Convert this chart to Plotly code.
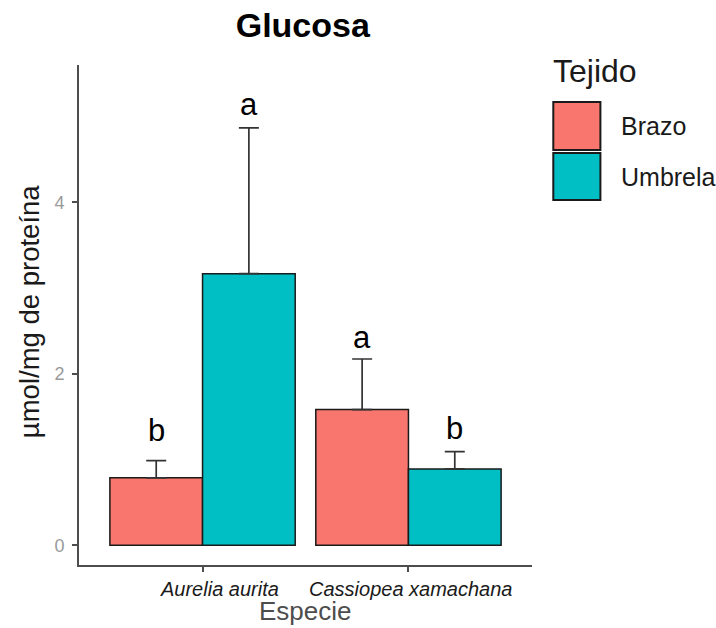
import plotly.graph_objects as go

# Glucose content per species and tissue (mean and upper error)
species = ["Aurelia aurita", "Cassiopea xamachana"]
tissues = ["Brazo", "Umbrela"]
glucose_mean = {
    "Brazo": [0.786, 1.582],
    "Umbrela": [3.167, 0.890],
}
glucose_err = {
    "Brazo": [0.201, 0.590],
    "Umbrela": [1.700, 0.202],
}
# Significance letters and their baseline heights
sig_letters = {
    "Brazo": ["b", "a"],
    "Umbrela": ["a", "b"],
}
sig_y = {
    "Brazo": [1.19, 2.28],
    "Umbrela": [4.99, 1.22],
}
y_ticks = [0, 2, 4]

colors = {"Brazo": "#F8766D", "Umbrela": "#00BFC4"}
FONT = "Liberation Sans, Arial, sans-serif"
BAR_GAP = 0.1
bar_w = (1 - BAR_GAP) / len(tissues)

fig = go.Figure()
for t in tissues:
    fig.add_trace(go.Bar(
        x=species,
        y=glucose_mean[t],
        name=t,
        marker=dict(color=colors[t], line=dict(color="#1a1a1a", width=1.5)),
        error_y=dict(
            type="data",
            symmetric=False,
            array=glucose_err[t],
            arrayminus=[0] * len(species),
            color="#333333",
            thickness=1.7,
            width=10,
        ),
        showlegend=False,
    ))

annotations = []
# significance letters above each bar
for j, t in enumerate(tissues):
    offset = (j - (len(tissues) - 1) / 2) * bar_w
    for i, sp in enumerate(species):
        annotations.append(dict(
            x=i + offset, y=sig_y[t][i], xref="x", yref="y",
            text=sig_letters[t][i], showarrow=False,
            yanchor="bottom", yshift=-7,
            font=dict(family=FONT, size=31, color="#000000"),
        ))

# category labels under the axis
label_shift = [17, 2]
for i, sp in enumerate(species):
    annotations.append(dict(
        x=i, y=0, xref="x", yref="paper", text="<i>%s</i>" % sp,
        showarrow=False, xanchor="center", yanchor="top",
        xshift=label_shift[i], yshift=-11,
        font=dict(family=FONT, size=20, color="#1a1a1a"),
    ))

# axis titles
annotations.append(dict(
    x=0.5, y=0, xref="paper", yref="paper", text="Especie",
    showarrow=False, xanchor="center", yanchor="top", yshift=-30,
    borderpad=0,
    font=dict(family=FONT, size=26, color="#4d4d4d"),
))
annotations.append(dict(
    x=-0.11, y=0.506, xref="paper", yref="paper", text="µmol/mg de proteína",
    showarrow=False, textangle=-90, xanchor="center", yanchor="middle",
    font=dict(family=FONT, size=27.5, color="#1a1a1a"),
))

# legend drawn as large keys
shapes = []
key_x0, key_x1 = 1.047, 1.151
key_rows = [(0.926, 0.830), (0.824, 0.730)]
for t, (y1, y0) in zip(tissues, key_rows):
    shapes.append(dict(
        type="rect", xref="paper", yref="paper",
        x0=key_x0, x1=key_x1, y0=y0, y1=y1,
        fillcolor=colors[t], line=dict(color="#1a1a1a", width=2),
    ))
    annotations.append(dict(
        x=1.193, y=(y0 + y1) / 2, xref="paper", yref="paper", text=t,
        showarrow=False, xanchor="left", yanchor="middle",
        font=dict(family=FONT, size=25, color="#1a1a1a"),
    ))
annotations.append(dict(
    x=1.043, y=0.988, xref="paper", yref="paper", text="Tejido",
    showarrow=False, xanchor="left", yanchor="middle",
    font=dict(family=FONT, size=32, color="#1a1a1a"),
))

fig.update_layout(
    width=716, height=628,
    margin=dict(l=79, r=184, t=65, b=63),
    paper_bgcolor="white", plot_bgcolor="white",
    barmode="group", bargap=BAR_GAP, bargroupgap=0,
    title=dict(
        text="<b>Glucosa</b>", x=0.494, xanchor="center",
        xref="paper", y=0.960, yref="container", yanchor="middle",
        font=dict(family=FONT, size=34, color="#000000"),
    ),
    xaxis=dict(
        range=[-0.6, 1.6], showgrid=False, zeroline=False,
        showline=True, linecolor="#4d4d4d", linewidth=2,
        ticks="outside", ticklen=5, tickwidth=1.5, tickcolor="#4d4d4d",
        showticklabels=False,
    ),
    yaxis=dict(
        range=[-0.23, 5.6], showgrid=False, zeroline=False,
        showline=True, linecolor="#4d4d4d", linewidth=2,
        ticks="outside", ticklen=5, tickwidth=1.5, tickcolor="#4d4d4d",
        tickvals=y_ticks, ticktext=[str(v) for v in y_ticks],
        tickfont=dict(family=FONT, size=18, color="#999999"),
        ticklabelstandoff=4,
    ),
    annotations=annotations,
    shapes=shapes,
)

fig.write_html("out.html")
